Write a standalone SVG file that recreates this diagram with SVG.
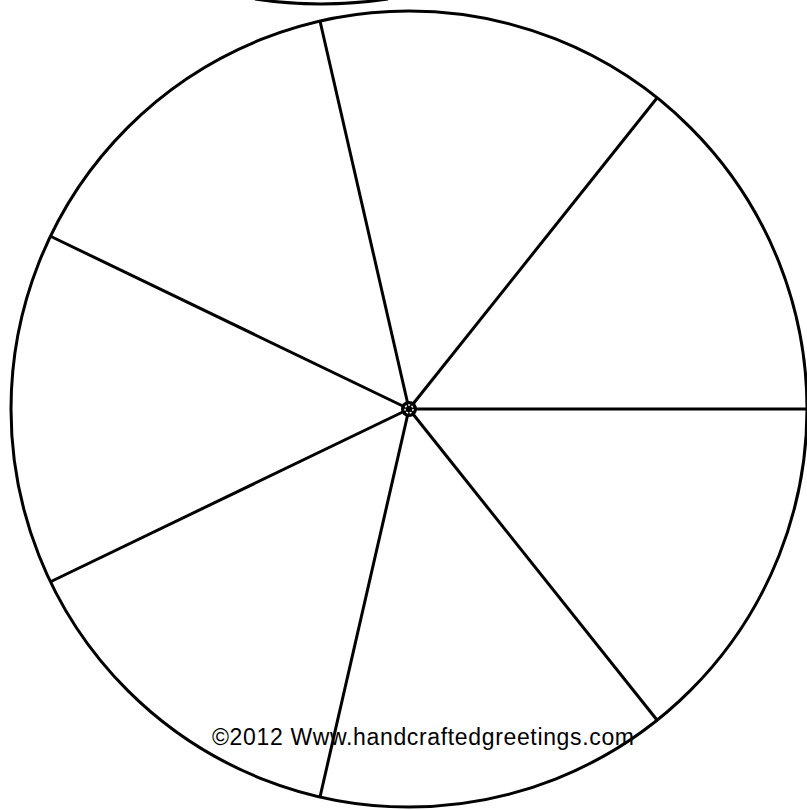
<svg xmlns="http://www.w3.org/2000/svg" width="807" height="810" viewBox="0 0 807 810">
<style>
.ln{stroke:#000;stroke-width:3;fill:none}
.txt{font-family:"Liberation Sans",Arial,sans-serif;font-size:23px;fill:#000}
</style>
<rect width="807" height="810" fill="#fff"/>
<path class="ln" d="M255,-1 Q320,9 388,-1" stroke-width="2.5"/>
<g id="wheel">
<circle cx="409" cy="409" r="398" class="ln" stroke-width="2.5"/>
</g>
<g id="connectors">
<line class="ln" x1="409" y1="409" x2="807" y2="409"/>
<line class="ln" x1="409" y1="409" x2="657" y2="720"/>
<line class="ln" x1="409" y1="409" x2="320" y2="797"/>
<line class="ln" x1="409" y1="409" x2="50" y2="582"/>
<line class="ln" x1="409" y1="409" x2="50" y2="236"/>
<line class="ln" x1="409" y1="409" x2="320" y2="21"/>
<line class="ln" x1="409" y1="409" x2="657" y2="98"/>
</g>
<g id="hub">
<circle cx="409" cy="409" r="8" fill="#000"/>
<circle cx="409" cy="409" r="4" fill="none" stroke="#fff" stroke-width="1.5" stroke-dasharray="2 1.5"/>
</g>
<text class="txt" x="212" y="745" textLength="422" lengthAdjust="spacing">©2012 Www.handcraftedgreetings.com</text>
</svg>
